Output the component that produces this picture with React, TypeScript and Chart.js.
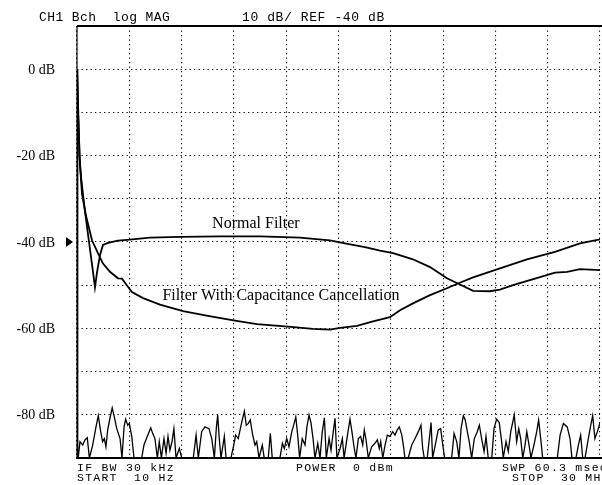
import React, { useEffect, useRef } from "react";
import { Chart, registerables } from "chart.js";

Chart.register(...registerables);

// ---- data: [frequency MHz, level dB] (START 10 Hz, STOP 30 MHz, linear sweep) ----
const normalFilter: [number, number][] = [
  [0, 0], [0.06, -8], [0.14, -20], [0.23, -25], [0.46, -33], [0.69, -40], [0.92, -47],
  [1.03, -50.5], [1.15, -47], [1.32, -43], [1.49, -40.7], [1.78, -40.2], [2.35, -39.7],
  [2.87, -39.5], [4.19, -39.0], [5.91, -38.8], [8.2, -38.7], [10.5, -38.7], [12.79, -39.0],
  [14.51, -39.6], [15.37, -40.3], [16.52, -41.2], [17.38, -42.0], [18.13, -42.6],
  [19.27, -44.0], [20.25, -45.8], [21.22, -48.4], [21.85, -49.6], [22.72, -51.3],
  [23.69, -51.4], [24.26, -51.0], [25.01, -50.0], [25.98, -48.8], [27.42, -47.1],
  [28.11, -46.9], [28.85, -46.3], [30.0, -46.5],
];

const capCancellation: [number, number][] = [
  [0, 0], [0.06, -10], [0.17, -22], [0.29, -29], [0.52, -34], [0.86, -39.6], [1.2, -42.6],
  [1.49, -45], [1.89, -46.9], [2.35, -48.4], [2.58, -48.5], [2.93, -50.4], [3.15, -51.6],
  [3.79, -53], [4.76, -54.5], [6.08, -56], [7.51, -57.1], [9.06, -58.2], [10.33, -59],
  [12.1, -59.6], [13.54, -60.1], [14.51, -60.3], [15.09, -59.9], [16.06, -59.4],
  [16.98, -58.4], [17.95, -57.4], [18.53, -55.8], [19.27, -54.2], [20.25, -52.3],
  [21.22, -50.7], [21.85, -49.6], [22.72, -48.2], [24.26, -46.1], [25.81, -44.0],
  [27.42, -42.3], [28.85, -40.3], [30.0, -39.4],
];

const noiseTrace: [number, number][] = [
  [0, 0], [0.04, -90], [0.07, -90], [0.17, -86.2], [0.33, -87], [0.46, -85.8], [0.59, -85.3],
  [0.71, -90], [0.9, -87], [1.09, -82.8], [1.22, -80.2], [1.36, -83.9], [1.47, -86.2],
  [1.57, -85.5], [1.66, -87.4], [1.76, -83.5], [1.89, -80.8], [2.02, -78.4], [2.14, -80.5],
  [2.28, -83.2], [2.47, -85.5], [2.58, -90], [2.7, -82.8], [2.79, -81], [2.91, -82.4],
  [3.0, -82], [3.14, -85], [3.27, -90], [3.71, -90], [3.84, -87], [4.03, -85], [4.23, -83],
  [4.34, -84.3], [4.47, -85.5], [4.61, -90], [4.72, -86.2], [4.84, -90], [4.99, -85.5],
  [5.11, -88.9], [5.22, -85], [5.33, -88.2], [5.45, -86.2], [5.56, -83.2], [5.68, -90],
  [5.87, -87.8], [6.01, -90], [6.67, -90], [6.83, -84.7], [6.96, -90], [7.15, -83.9],
  [7.34, -82.8], [7.57, -83.2], [7.73, -85.5], [7.88, -90], [7.99, -83.2], [8.07, -80],
  [8.16, -85.5], [8.26, -90], [8.45, -85], [8.55, -90], [8.83, -90], [8.97, -87.4],
  [9.1, -84.7], [9.25, -85.5], [9.37, -83.2], [9.48, -81.2], [9.6, -79.2], [9.71, -82.4],
  [9.83, -82], [9.94, -81.2], [10.06, -84.3], [10.21, -87], [10.31, -86.2], [10.44, -90],
  [10.63, -87], [10.74, -90], [10.97, -90], [11.09, -84.3], [11.2, -90], [11.64, -90],
  [11.78, -86.6], [11.89, -87.8], [12.03, -85.5], [12.16, -87.4], [12.32, -83.9],
  [12.43, -82.4], [12.55, -80.5], [12.66, -84.7], [12.77, -90], [12.92, -85.5],
  [13.08, -87], [13.19, -82.8], [13.31, -80], [13.42, -81.8], [13.54, -85.5], [13.65, -90],
  [13.81, -86.6], [13.94, -90], [14.07, -83.9], [14.19, -80.7], [14.3, -90], [14.46, -85.5],
  [14.57, -88.2], [14.7, -83.9], [14.8, -80.8], [14.91, -90], [15.09, -87.8],
  [15.22, -85.5], [15.32, -90], [15.43, -87], [15.56, -83.5], [15.66, -81], [15.77, -83.9],
  [15.89, -87.4], [16.0, -90], [16.14, -85.5], [16.27, -85], [16.39, -87], [16.48, -83.5],
  [16.58, -85.8], [16.71, -90], [16.9, -87.4], [17.09, -86.6], [17.23, -85.8],
  [17.34, -87.8], [17.42, -86.2], [17.54, -90], [17.67, -87], [17.8, -84.7], [17.95, -85],
  [18.11, -83.9], [18.24, -84.7], [18.37, -83.5], [18.49, -82.8], [18.63, -84.7],
  [18.72, -87], [18.81, -90], [19.0, -90], [19.2, -87], [19.39, -85.5], [19.58, -83.9],
  [19.73, -82.4], [19.83, -87.8], [19.92, -90], [20.09, -90], [20.21, -85.5],
  [20.31, -81.8], [20.4, -90], [20.59, -86.2], [20.72, -83.5], [20.86, -83.2], [20.98, -87],
  [21.09, -90], [21.49, -90], [21.63, -84.3], [21.78, -86.2], [21.91, -90], [22.03, -83.2],
  [22.16, -80.2], [22.27, -81.2], [22.39, -83.9], [22.5, -86.2], [22.64, -90],
  [22.79, -85.5], [22.96, -83.9], [23.08, -82.4], [23.21, -85.5], [23.35, -88.5],
  [23.46, -85], [23.59, -90], [23.79, -90], [23.92, -83.2], [24.07, -81], [24.22, -81.8],
  [24.36, -86.2], [24.45, -90], [24.61, -86.2], [24.74, -88.5], [24.88, -83.9],
  [24.99, -81.8], [25.08, -80], [25.22, -86.2], [25.34, -83.2], [25.45, -85.5],
  [25.57, -90], [25.7, -87], [25.8, -83.9], [25.93, -87], [26.04, -90], [26.21, -87],
  [26.37, -83.9], [26.48, -81.2], [26.6, -85.5], [26.71, -90], [27.55, -90], [27.71, -84.7],
  [27.9, -82], [28.12, -82.8], [28.28, -85.5], [28.39, -90], [28.62, -90], [28.76, -87],
  [28.89, -84.7], [29.01, -90], [29.14, -90], [29.33, -85.5], [29.47, -82.4],
  [29.58, -80.2], [29.71, -85.5], [29.85, -83.9], [30.0, -81.8],
];

const yLabelValues = [0, -20, -40, -60, -80];
const refLevelDb = -40;
const headerLeft = "CH1 Bch  log MAG";
const headerRight = "10 dB/ REF -40 dB";
const footerTop = ["IF BW 30 kHz", "POWER  0 dBm", "SWP 60.3 msec"];
const footerBottom = ["START  10 Hz", "", "STOP  30 MHz"];
const annotationTexts = ["Normal Filter", "Filter With Capacitance Cancellation"];
const annotationFreq = [7.75, 4.9];
const annotationDb = [-36.8, -53.5];

function drawMono(ctx: CanvasRenderingContext2D, text: string, x: number, y: number, pitch: number) {
  for (let i = 0; i < text.length; i++) {
    if (text[i] !== " ") ctx.fillText(text[i], x + i * pitch, y);
  }
}

const overlayPlugin = {
  id: "overlay",
  afterDraw(chart: any) {
    const { ctx, chartArea: a, scales } = chart;
    const xs = scales.x;
    const ys = scales.y;
    ctx.save();
    ctx.strokeStyle = "#000";
    ctx.fillStyle = "#000";
    // frame
    ctx.lineWidth = 2;
    ctx.beginPath();
    ctx.moveTo(a.left, a.top);
    ctx.lineTo(chart.width, a.top);
    ctx.stroke();
    ctx.beginPath();
    ctx.moveTo(a.left - 1, a.bottom);
    ctx.lineTo(chart.width, a.bottom);
    ctx.stroke();
    ctx.lineWidth = 1.2;
    ctx.beginPath();
    ctx.moveTo(a.left, a.top);
    ctx.lineTo(a.left, a.bottom);
    ctx.stroke();

    // y labels
    ctx.font = "14px 'Liberation Serif', 'Times New Roman', serif";
    ctx.textAlign = "right";
    ctx.textBaseline = "middle";
    yLabelValues.forEach((v) => {
      ctx.fillText(`${v} dB`, a.left - 22, ys.getPixelForValue(v) + 1);
    });

    // reference marker
    const ry = ys.getPixelForValue(refLevelDb);
    ctx.beginPath();
    ctx.moveTo(a.left - 11, ry - 5);
    ctx.lineTo(a.left - 11, ry + 5);
    ctx.lineTo(a.left - 4, ry);
    ctx.closePath();
    ctx.fill();

    // header
    ctx.font = "13px 'Liberation Mono', 'DejaVu Sans Mono', monospace";
    ctx.textBaseline = "alphabetic";
    ctx.textAlign = "left";
    drawMono(ctx, headerLeft, 39, 21, 8.2);
    drawMono(ctx, headerRight, 242, 21, 8.4);

    // footer
    ctx.font = "11.5px 'Liberation Mono', 'DejaVu Sans Mono', monospace";
    const fx = [a.left, 296, 502];
    const fx2 = [a.left, 296, 512];
    footerTop.forEach((t, i) => drawMono(ctx, t, fx[i], a.bottom + 13, 8.15));
    footerBottom.forEach((t, i) => drawMono(ctx, t, fx2[i], a.bottom + 23, 8.15));

    // annotations
    ctx.font = "16px 'Liberation Serif', 'Times New Roman', serif";
    annotationTexts.forEach((t, i) => {
      ctx.fillText(t, xs.getPixelForValue(annotationFreq[i]), ys.getPixelForValue(annotationDb[i]));
    });
    ctx.restore();
  },
};

export default function App() {
  const canvasRef = useRef<HTMLCanvasElement | null>(null);

  useEffect(() => {
    const canvas = canvasRef.current;
    if (!canvas) return;
    const toPts = (arr: [number, number][]) => arr.map(([x, y]) => ({ x, y }));
    const chart = new Chart(canvas, {
      type: "line",
      data: {
        datasets: [
          {
            label: "Noise",
            data: toPts(noiseTrace),
            borderColor: "#000",
            borderWidth: 1.3,
            pointRadius: 0,
            tension: 0,
          },
          {
            label: "Normal Filter",
            data: toPts(normalFilter),
            borderColor: "#000",
            borderWidth: 1.8,
            pointRadius: 0,
            tension: 0,
          },
          {
            label: "Filter With Capacitance Cancellation",
            data: toPts(capCancellation),
            borderColor: "#000",
            borderWidth: 1.8,
            pointRadius: 0,
            tension: 0,
          },
        ],
      },
      options: {
        responsive: false,
        animation: false,
        devicePixelRatio: 1,
        layout: { autoPadding: false, padding: { left: 77, top: 26, right: 2, bottom: 27 } },
        plugins: { legend: { display: false }, tooltip: { enabled: false } },
        scales: {
          x: {
            type: "linear",
            min: 0,
            max: 30,
            ticks: { display: false, stepSize: 3 },
            grid: { color: "#000", lineWidth: 1.1, drawTicks: false },
            border: { display: false, dash: [1.3, 3.2] },
          },
          y: {
            type: "linear",
            min: -90,
            max: 10,
            ticks: { display: false, stepSize: 10 },
            grid: { color: "#000", lineWidth: 1.1, drawTicks: false },
            border: { display: false, dash: [1.3, 3.2] },
          },
        },
      },
      plugins: [overlayPlugin],
    });
    return () => chart.destroy();
  }, []);

  return (
    <div style={{ position: "absolute", left: 0, top: 0, width: 602, height: 485, background: "#fff" }}>
      <canvas ref={canvasRef} width={602} height={485} style={{ display: "block" }} />
    </div>
  );
}
